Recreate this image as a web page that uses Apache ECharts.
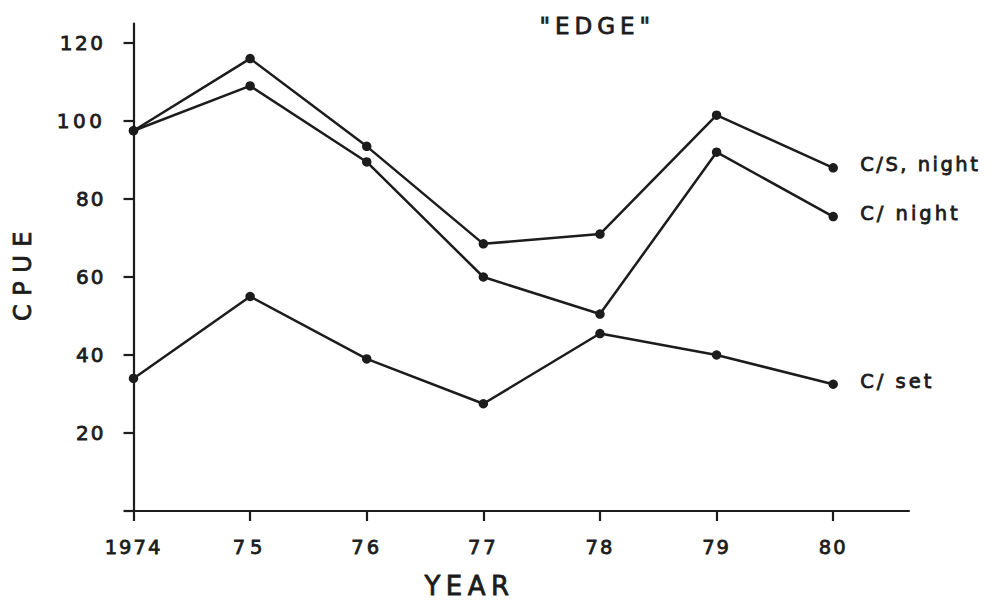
<!DOCTYPE html>
<html>
<head>
<meta charset="utf-8">
<title>"EDGE" CPUE by year</title>
<script src="https://cdn.jsdelivr.net/npm/echarts@6/dist/echarts.min.js"></script>
<style>
  html, body { margin: 0; padding: 0; background: #ffffff; }
  #chart { width: 997px; height: 600px; }
</style>
</head>
<body>
<div id="chart"></div>
<script>
// Years on the horizontal axis and their printed labels
const years = [1974, 1975, 1976, 1977, 1978, 1979, 1980];
const yearLabels = ['1974', '75', '76', '77', '78', '79', '80'];

// CPUE tick values on the vertical axis
const cpueTicks = [20, 40, 60, 80, 100, 120];

// Catch per unit effort, one array per series
const seriesNames = ['C/S, night', 'C/ night', 'C/ set'];
const csNight = [97.5, 116, 93.5, 68.5, 71, 101.5, 88];
const cNight = [97.5, 109, 89.5, 60, 50.5, 92, 75.5];
const cSet = [34, 55, 39, 27.5, 45.5, 40, 32.5];

const INK = '#1c1c1c';
const FONT = 'DejaVu Sans';
// a thin outline in the ink colour gives the lettering a heavier pen stroke
const PEN = { textBorderColor: INK, textBorderWidth: 0.8 };
const GRAPHIC_PEN = { stroke: INK, lineWidth: 0.8 };

function pairs(values) {
  return years.map((y, i) => [y, values[i]]);
}

function lineSeries(name, values) {
  return {
    name: name,
    type: 'line',
    data: pairs(values),
    symbol: 'circle',
    symbolSize: 9.5,
    showSymbol: true,
    lineStyle: { color: INK, width: 2.5 },
    itemStyle: { color: INK },
    emphasis: { disabled: true },
    endLabel: Object.assign({
      show: true,
      formatter: '{a}',
      distance: 27,
      color: INK,
      fontFamily: FONT,
      fontSize: 19.5,
      offset: [0, -3]
    }, PEN),
    z: 3
  };
}

const chart = echarts.init(document.getElementById('chart'), null, { renderer: 'svg' });

chart.setOption({
  backgroundColor: '#ffffff',
  animation: false,
  grid: { left: 133.5, right: 88, top: 23.5, bottom: 89, containLabel: false },
  xAxis: {
    type: 'value',
    min: 1974,
    max: 1980.65,
    axisLine: { show: true, lineStyle: { color: INK, width: 2.2 } },
    axisTick: {
      show: true,
      inside: false,
      length: 10,
      customValues: years,
      lineStyle: { color: INK, width: 2.2 }
    },
    axisLabel: Object.assign({
      customValues: years,
      formatter: v => yearLabels[years.indexOf(Math.round(v))] || '',
      margin: 26,
      color: INK,
      fontFamily: FONT,
      fontSize: 19.5
    }, PEN),
    splitLine: { show: false }
  },
  yAxis: {
    type: 'value',
    min: 0,
    max: 125,
    axisLine: { show: true, onZero: false, lineStyle: { color: INK, width: 2.2 } },
    axisTick: {
      show: true,
      length: 10,
      customValues: [0].concat(cpueTicks),
      lineStyle: { color: INK, width: 2.2 }
    },
    axisLabel: Object.assign({
      customValues: cpueTicks,
      margin: 28,
      color: INK,
      fontFamily: FONT,
      fontSize: 20
    }, PEN),
    splitLine: { show: false }
  },
  graphic: [
    {
      type: 'text',
      left: 539,
      top: 14,
      style: Object.assign({ text: '"EDGE"', fill: INK, font: '23px "DejaVu Sans"' }, GRAPHIC_PEN)
    },
    {
      type: 'text',
      left: 424,
      top: 573,
      style: Object.assign({ text: 'YEAR', fill: INK, font: '26px "DejaVu Sans"' }, GRAPHIC_PEN)
    },
    {
      type: 'text',
      x: 11,
      y: 321,
      rotation: Math.PI / 2,
      style: Object.assign({ text: 'CPUE', fill: INK, font: '24px "DejaVu Sans"', textVerticalAlign: 'top' }, GRAPHIC_PEN)
    }
  ],
  series: [
    lineSeries(seriesNames[0], csNight),
    lineSeries(seriesNames[1], cNight),
    lineSeries(seriesNames[2], cSet)
  ]
});

// Hand-lettered look: widen the spacing between characters of each text
const spacing = {
  '"EDGE"': 5, 'YEAR': 5.5, 'CPUE': 8.5,
  'C/S, night': 2.5, 'C/ night': 3, 'C/ set': 3,
  '120': 2.5, '100': 3.5, '75': 5, '76': 3, '77': 3
};
function spaceLetters() {
  document.querySelectorAll('#chart text').forEach(t => {
    const s = spacing[t.textContent];
    t.style.letterSpacing = (s !== undefined ? s : 2) + 'px';
  });
}
chart.on('finished', spaceLetters);
spaceLetters();
</script>
</body>
</html>
